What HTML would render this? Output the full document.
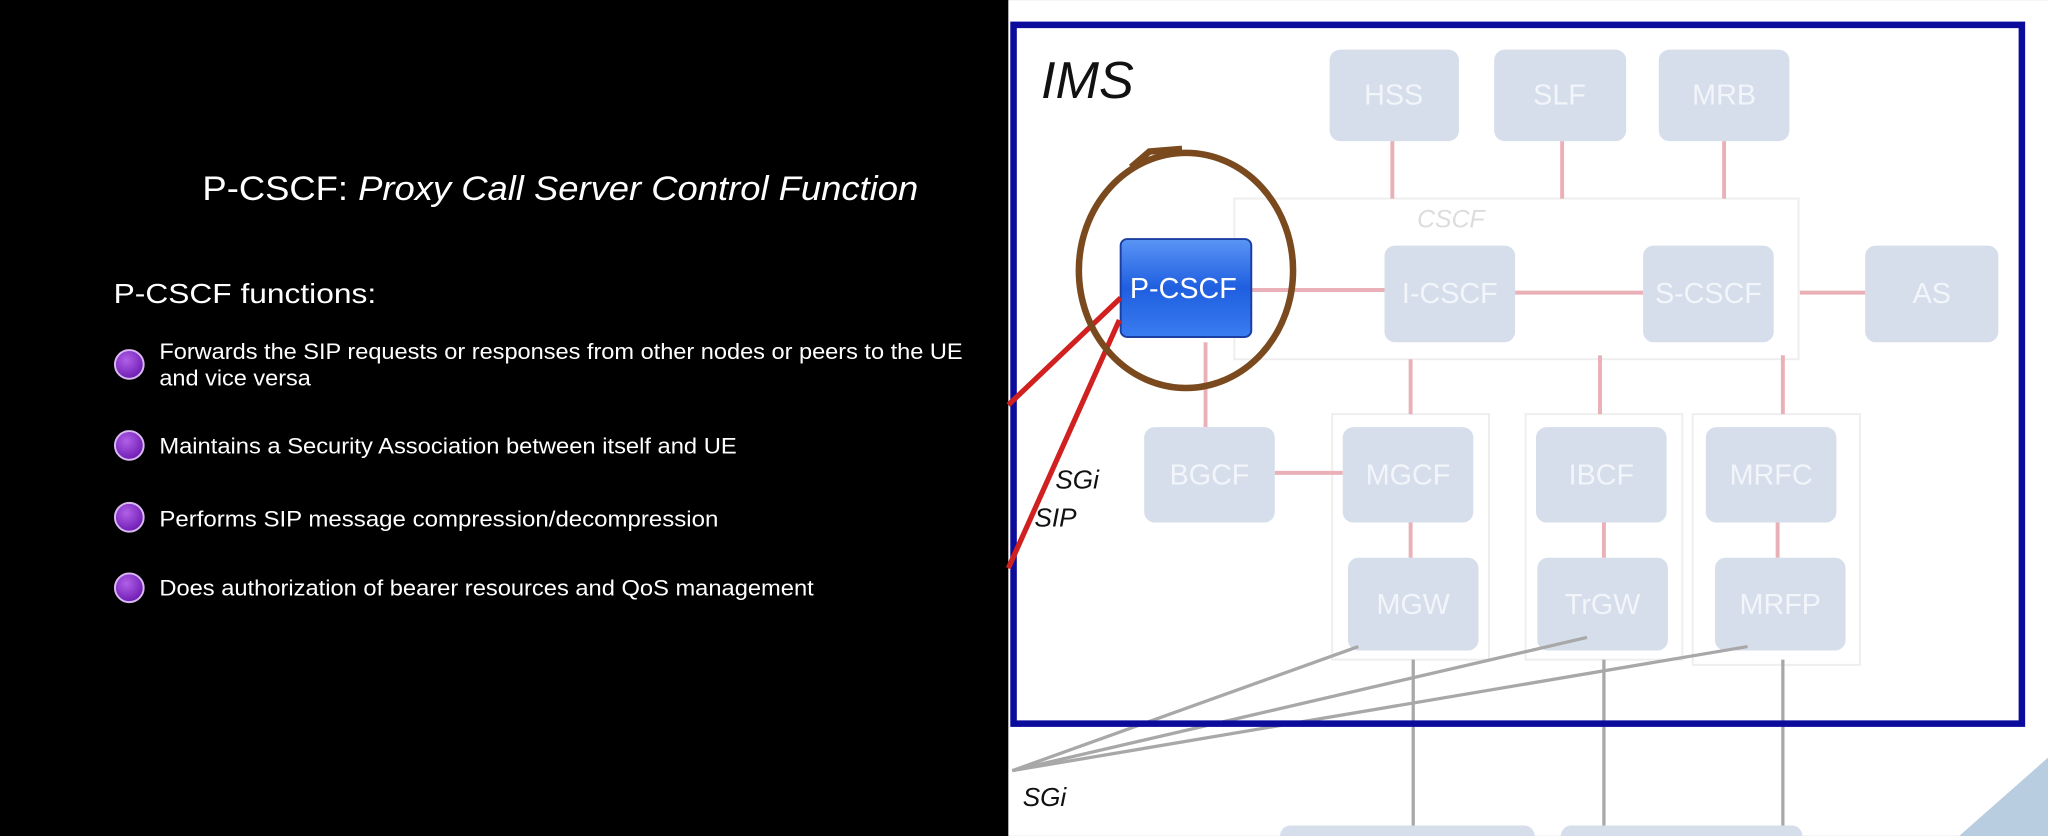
<!DOCTYPE html>
<html><head><style>html,body{margin:0;padding:0;background:#000;overflow:hidden}svg{display:block}</style></head><body>
<svg width="2048" height="836" viewBox="0 0 1568 640" xmlns="http://www.w3.org/2000/svg" font-family="Liberation Sans, sans-serif">
<defs>
<linearGradient id="pc" x1="0" y1="0" x2="0" y2="1"><stop offset="0" stop-color="#5a95f5"/><stop offset="0.5" stop-color="#1f5fe0"/><stop offset="1" stop-color="#3a7cf0"/></linearGradient>
<radialGradient id="bul" cx="0.4" cy="0.35" r="0.7"><stop offset="0" stop-color="#b060e8"/><stop offset="1" stop-color="#6a18b0"/></radialGradient>
</defs>
<rect width="1568" height="640" fill="#000"/>
<rect x="772" y="0" width="796" height="640" fill="#fff"/>
<path d="M1500 640 L1568 580 L1568 640 Z" fill="#b8cde0"/>
<!-- left text -->
<text x="155" y="153" fill="#fff" font-size="26" textLength="548" lengthAdjust="spacingAndGlyphs">P-CSCF: <tspan font-style="italic">Proxy Call Server Control Function</tspan></text>
<text x="87" y="232" fill="#fff" font-size="21" textLength="201" lengthAdjust="spacingAndGlyphs">P-CSCF functions:</text>
<g fill="url(#bul)" stroke="#d8b8f0" stroke-width="1.5">
<circle cx="99" cy="279" r="11"/><circle cx="99" cy="341" r="11"/><circle cx="99" cy="396" r="11"/><circle cx="99" cy="450" r="11"/></g>
<g fill="#fff" font-size="17" lengthAdjust="spacingAndGlyphs">
<text x="122" y="275" textLength="615" lengthAdjust="spacingAndGlyphs">Forwards the SIP requests or responses from other nodes or peers to the UE</text>
<text x="122" y="295" textLength="116" lengthAdjust="spacingAndGlyphs">and vice versa</text>
<text x="122" y="347" textLength="442" lengthAdjust="spacingAndGlyphs">Maintains a Security Association between itself and UE</text>
<text x="122" y="403" textLength="428" lengthAdjust="spacingAndGlyphs">Performs SIP message compression/decompression</text>
<text x="122" y="456" textLength="501" lengthAdjust="spacingAndGlyphs">Does authorization of bearer resources and QoS management</text>
</g>
<!-- containers -->
<g fill="none" stroke="#eeeeee" stroke-width="1.5">
<rect x="945" y="152" width="432" height="123"/>
<rect x="1020" y="317" width="120" height="188"/>
<rect x="1168" y="317" width="120" height="188"/>
<rect x="1296" y="317" width="128" height="192"/>
</g>
<text x="1085" y="174" fill="#dcdcdc" font-size="19" font-style="italic">CSCF</text>
<!-- pink connectors -->
<g stroke="#eab0b8" stroke-width="3">
<line x1="1066" y1="108" x2="1066" y2="152"/><line x1="1196" y1="108" x2="1196" y2="152"/><line x1="1320" y1="108" x2="1320" y2="152"/>
<line x1="958" y1="222" x2="1060" y2="222"/><line x1="1160" y1="224" x2="1258" y2="224"/><line x1="1378" y1="224" x2="1428" y2="224"/>
<line x1="923" y1="262" x2="923" y2="327"/><line x1="1080" y1="275" x2="1080" y2="317"/><line x1="1225" y1="272" x2="1225" y2="317"/><line x1="1365" y1="272" x2="1365" y2="317"/>
<line x1="976" y1="362" x2="1028" y2="362"/>
<line x1="1080" y1="400" x2="1080" y2="427"/><line x1="1228" y1="400" x2="1228" y2="427"/><line x1="1361" y1="400" x2="1361" y2="427"/>
</g>
<!-- boxes -->
<g fill="#d6deeb">
<rect x="1018" y="38" width="99" height="70" rx="8"/><rect x="1144" y="38" width="101" height="70" rx="8"/><rect x="1270" y="38" width="100" height="70" rx="8"/>
<rect x="1060" y="188" width="100" height="74" rx="8"/><rect x="1258" y="188" width="100" height="74" rx="8"/><rect x="1428" y="188" width="102" height="74" rx="8"/>
<rect x="876" y="327" width="100" height="73" rx="8"/><rect x="1028" y="327" width="100" height="73" rx="8"/><rect x="1176" y="327" width="100" height="73" rx="8"/><rect x="1306" y="327" width="100" height="73" rx="8"/>
<rect x="1032" y="427" width="100" height="71" rx="8"/><rect x="1177" y="427" width="100" height="71" rx="8"/><rect x="1313" y="427" width="100" height="71" rx="8"/>
</g>
<g fill="#f2f5fa" font-size="22" text-anchor="middle">
<text x="1067" y="80">HSS</text><text x="1194" y="80">SLF</text><text x="1320" y="80">MRB</text>
<text x="1110" y="232">I-CSCF</text><text x="1308" y="232">S-CSCF</text><text x="1479" y="232">AS</text>
<text x="926" y="371">BGCF</text><text x="1078" y="371">MGCF</text><text x="1226" y="371">IBCF</text><text x="1356" y="371">MRFC</text>
<text x="1082" y="470">MGW</text><text x="1227" y="470">TrGW</text><text x="1363" y="470">MRFP</text>
</g>
<!-- grey lines -->
<g stroke="#a8a8a8" stroke-width="2.5" fill="none">
<line x1="1040" y1="495" x2="775" y2="590"/><line x1="1215" y1="488" x2="775" y2="590"/><line x1="1338" y1="495" x2="775" y2="590"/>
<line x1="1082" y1="505" x2="1082" y2="640"/><line x1="1228" y1="505" x2="1228" y2="640"/><line x1="1365" y1="505" x2="1365" y2="640"/>
</g>
<rect x="980" y="632" width="195" height="20" rx="8" fill="#d6deeb"/><rect x="1195" y="632" width="185" height="20" rx="8" fill="#d6deeb"/>
<!-- border -->
<rect x="776" y="19" width="772" height="535" fill="none" stroke="#0c0c9c" stroke-width="5"/>
<text x="797" y="75" font-size="40" font-style="italic" fill="#111">IMS</text>
<!-- P-CSCF -->
<rect x="858" y="183" width="100" height="75" rx="5" fill="url(#pc)" stroke="#1a3fa0" stroke-width="1.5"/>
<text x="906" y="228" fill="#fff" font-size="22" text-anchor="middle">P-CSCF</text>
<!-- red lines -->
<g stroke="#d02020" stroke-width="4"><line x1="858" y1="228" x2="772" y2="310"/><line x1="857" y1="245" x2="772" y2="435"/></g>
<!-- brown circle -->
<ellipse cx="908" cy="207" rx="82" ry="90" fill="none" stroke="#7a4a1e" stroke-width="5"/>
<path d="M866 128 L880 116 L905 114" fill="none" stroke="#7a4a1e" stroke-width="5"/>
<g font-size="20" font-style="italic" fill="#111"><text x="808" y="374">SGi</text><text x="792" y="403">SIP</text><text x="783" y="617">SGi</text></g>
</svg>
</body></html>
